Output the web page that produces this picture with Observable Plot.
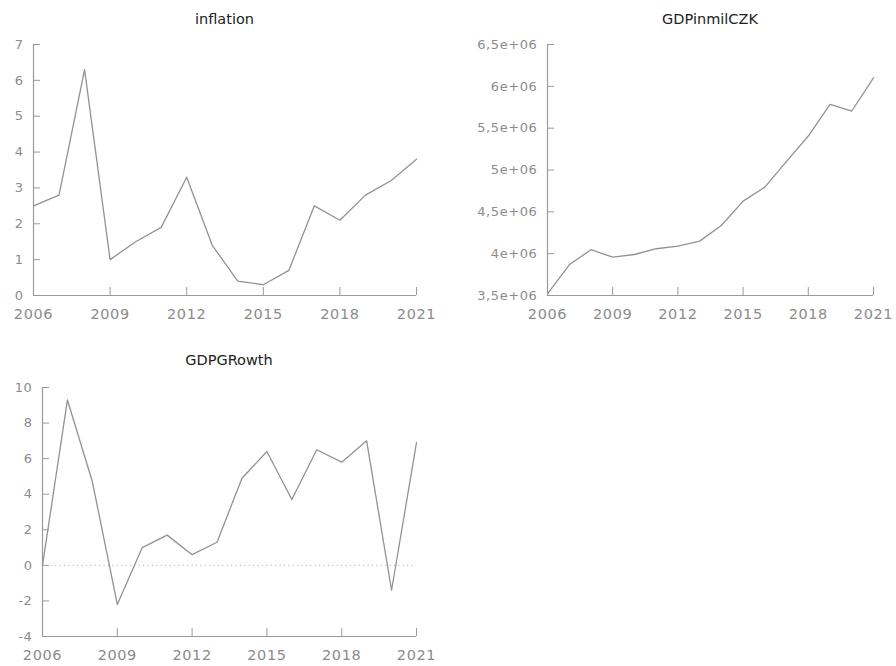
<!DOCTYPE html>
<html>
<head>
<meta charset="utf-8">
<script src="https://cdn.jsdelivr.net/npm/d3@7"></script>
<script src="https://cdn.jsdelivr.net/npm/@observablehq/plot@0.6"></script>
<style>
  body { margin: 0; background: #fff; }
  #chart { position: relative; width: 896px; height: 666px; font-family: "DejaVu Sans", sans-serif; background: #fff; }
  .panel { position: absolute; }
  .title { position: absolute; font-size: 14.5px; line-height: 17px; color: #222; white-space: nowrap; transform: translateX(-50%); }
  .panel [aria-label="x-axis tick label"] { letter-spacing: 0.6px; }
  .panel [aria-label="y-axis tick label"] { letter-spacing: 0.6px; }
</style>
</head>
<body>
<div id="chart"></div>
<script>
// Annual series, Czech Republic
const years = [2006, 2007, 2008, 2009, 2010, 2011, 2012, 2013, 2014, 2015, 2016, 2017, 2018, 2019, 2020, 2021];
const inflation = [2.5, 2.8, 6.3, 1.0, 1.5, 1.9, 3.3, 1.4, 0.4, 0.3, 0.7, 2.5, 2.1, 2.8, 3.2, 3.8];
const gdpMilCZK = [3520000, 3867000, 4047000, 3958000, 3990000, 4059000, 4090000, 4150000, 4337000, 4628000, 4795000, 5103000, 5406000, 5785000, 5705000, 6100000];
const gdpGrowth = [0, 9.3, 4.7, -2.2, 1.0, 1.7, 0.6, 1.3, 4.9, 6.4, 3.7, 6.5, 5.8, 7.0, -1.4, 6.9];

// Axis ticks and labels
const yearTicks = [2006, 2009, 2012, 2015, 2018, 2021];
const inflationTicks = [0, 1, 2, 3, 4, 5, 6, 7];
const gdpTicks = [3500000, 4000000, 4500000, 5000000, 5500000, 6000000, 6500000];
const gdpTickLabels = ["3,5e+06", "4e+06", "4,5e+06", "5e+06", "5,5e+06", "6e+06", "6,5e+06"];
const growthTicks = [-4, -2, 0, 2, 4, 6, 8, 10];

const AXIS = "#9a9a9a";
const TEXT = "#8c8c8c";
const LINE = "#929292";

const chart = document.getElementById("chart");

function panel({title, values, yDomain, yTicks, yFormat, left, top, width, height, margin, titleTop, zeroLine}) {
  const data = years.map((year, i) => ({year, value: values[i]}));
  const marks = [
    Plot.ruleX([years[0]], {stroke: AXIS, strokeWidth: 1.2}),
    Plot.ruleY([yDomain[0]], {stroke: AXIS, strokeWidth: 1.2}),
    zeroLine ? Plot.ruleY([0], {stroke: "#a8a8a8", strokeDasharray: "1,3.4"}) : null,
    // inward tick marks
    Plot.axisX(yearTicks, {anchor: "bottom", tickSize: -8, fill: "none", stroke: AXIS, label: null}),
    Plot.axisY(yTicks, {anchor: "left", tickSize: -7, fill: "none", stroke: AXIS, label: null}),
    // tick labels
    Plot.axisX(yearTicks, {anchor: "bottom", tickSize: 0, tickPadding: 13, stroke: "none", fill: TEXT, fontSize: 14.5, tickFormat: d => String(d), label: null}),
    Plot.axisY(yTicks, {anchor: "left", tickSize: 0, tickPadding: 10, stroke: "none", fill: TEXT, fontSize: 13, tickFormat: yFormat, label: null}),
    Plot.line(data, {x: "year", y: "value", stroke: LINE, strokeWidth: 1.3})
  ];
  const svg = Plot.plot({
    width, height,
    marginLeft: margin[0], marginTop: margin[1], marginRight: margin[2], marginBottom: margin[3],
    x: {domain: [years[0], years[years.length - 1]]},
    y: {domain: yDomain},
    style: {fontFamily: "DejaVu Sans, sans-serif", background: "transparent", overflow: "visible"},
    marks
  });
  const box = document.createElement("div");
  box.className = "panel";
  box.style.left = left + "px";
  box.style.top = top + "px";
  box.appendChild(svg);
  chart.appendChild(box);

  const t = document.createElement("div");
  t.className = "title";
  t.textContent = title;
  t.style.left = (left + margin[0] + (width - margin[0] - margin[2]) / 2) + "px";
  t.style.top = titleTop + "px";
  chart.appendChild(t);
}

panel({
  title: "inflation", values: inflation, yDomain: [0, 7], yTicks: inflationTicks,
  yFormat: d => String(d),
  left: 0, top: 30, width: 440, height: 300, margin: [33, 14, 24, 35], titleTop: 10.5
});

panel({
  title: "GDPinmilCZK", values: gdpMilCZK, yDomain: [3500000, 6500000], yTicks: gdpTicks,
  yFormat: d => gdpTickLabels[gdpTicks.indexOf(d)],
  left: 450, top: 30, width: 446, height: 300, margin: [97, 14, 23, 35], titleTop: 10.5
});

panel({
  title: "GDPGRowth", values: gdpGrowth, yDomain: [-4, 10], yTicks: growthTicks,
  yFormat: d => String(d),
  left: 0, top: 370, width: 440, height: 296, margin: [42, 17, 24, 30], titleTop: 351.5, zeroLine: true
});
</script>
</body>
</html>
